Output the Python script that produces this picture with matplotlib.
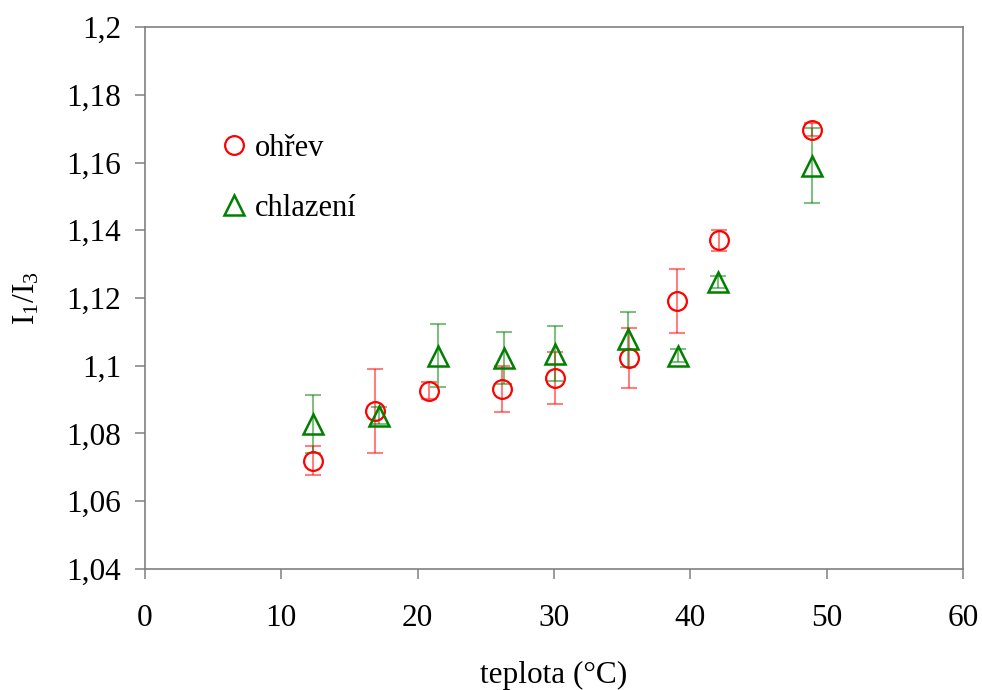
import matplotlib.pyplot as plt
from matplotlib.ticker import FuncFormatter

# heating series (ohřev)
heat_t = [12.3, 16.9, 20.8, 26.2, 30.1, 35.5, 39.0, 42.1, 48.9]
heat_r = [1.0720, 1.0867, 1.0926, 1.0931, 1.0964, 1.1022, 1.1192, 1.1370, 1.1697]
heat_err = [0.0043, 0.0124, 0.0025, 0.0067, 0.0077, 0.0088, 0.0094, 0.0032, 0.0019]

# cooling series (chlazení)
cool_t = [12.3, 17.2, 21.5, 26.3, 30.1, 35.4, 39.1, 42.0, 48.9]
cool_r = [1.0828, 1.0852, 1.1030, 1.1024, 1.1036, 1.1078, 1.1030, 1.1248, 1.1590]
cool_err = [0.0085, 0.0025, 0.0094, 0.0077, 0.0082, 0.0082, 0.0020, 0.0018, 0.0111]

x_ticks = [0, 10, 20, 30, 40, 50, 60]
y_ticks = [1.04, 1.06, 1.08, 1.10, 1.12, 1.14, 1.16, 1.18, 1.20]

plt.rcParams["font.family"] = ["Liberation Serif", "DejaVu Serif"]
plt.rcParams["mathtext.fontset"] = "custom"
plt.rcParams["mathtext.rm"] = "Liberation Serif"

fig = plt.figure(figsize=(9.82, 6.9), dpi=100)
ax = fig.add_axes([145 / 982, 1 - 569 / 690, (963 - 145) / 982, (569 - 27) / 690])

axis_grey = "#808080"

ax.errorbar(heat_t, heat_r, yerr=heat_err, fmt="none", ecolor="red", alpha=0.5,
            elinewidth=1.5, capsize=5.5, capthick=1.5, zorder=2)
ax.errorbar(cool_t, cool_r, yerr=cool_err, fmt="none", ecolor="green", alpha=0.5,
            elinewidth=1.5, capsize=5.5, capthick=1.5, zorder=2)
ax.plot(heat_t, heat_r, "o", ms=13.5, mfc="none", mec="red", mew=1.6,
        label="ohřev", zorder=3)
ax.plot(cool_t, cool_r, "^", ms=14.5, mfc="none", mec="green", mew=1.8,
        label="chlazení", zorder=3)

ax.set_xlim(0, 60)
ax.set_ylim(1.04, 1.2)
ax.set_xticks(x_ticks)
ax.set_yticks(y_ticks)


def comma_fmt(v, pos):
    return f"{v:g}".replace(".", ",")


ax.yaxis.set_major_formatter(FuncFormatter(comma_fmt))
ax.xaxis.set_major_formatter(FuncFormatter(comma_fmt))

for spine in ax.spines.values():
    spine.set_color(axis_grey)
    spine.set_linewidth(1.2)
ax.tick_params(axis="both", direction="out", length=7, width=1.1, color=axis_grey,
               labelsize=22.5, labelcolor="black")
ax.tick_params(axis="y", pad=10)
ax.tick_params(axis="x", pad=18)

ax.set_xlabel("teplota (°C)", fontsize=22.5, labelpad=20)
ax.set_ylabel(r"$\mathregular{I_1/I_3}$", fontsize=22.5, labelpad=18)

ax.legend(loc="upper left", bbox_to_anchor=(0.075, 0.826), frameon=False,
          fontsize=22, handletextpad=0.2, labelspacing=1.03, handlelength=1.0,
          borderaxespad=0)

fig.savefig("out.png", dpi=100)
